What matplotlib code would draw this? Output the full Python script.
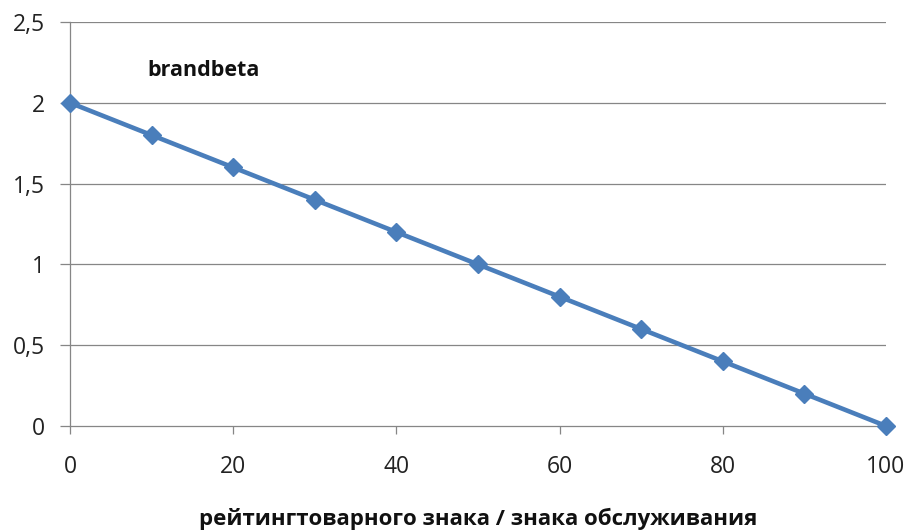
import matplotlib
matplotlib.use("Agg")
import matplotlib.pyplot as plt

# data
rating = [0, 10, 20, 30, 40, 50, 60, 70, 80, 90, 100]
brandbeta = [2.0, 1.8, 1.6, 1.4, 1.2, 1.0, 0.8, 0.6, 0.4, 0.2, 0.0]
yticks = [0, 0.5, 1, 1.5, 2, 2.5]
ytick_labels = ["0", "0,5", "1", "1,5", "2", "2,5"]
xticks = [0, 20, 40, 60, 80, 100]
series_name = "brandbeta"
xlabel = "рейтингтоварного знака / знака обслуживания"

plt.rcParams["font.family"] = ["Open Sans", "DejaVu Sans"]

fig = plt.figure(figsize=(9.06, 5.32), dpi=100)
ax = fig.add_axes([70 / 906, 1 - 426 / 532, 816 / 906, 404 / 532])

grid_c = "#868686"
for y in yticks[1:]:
    ax.axhline(y, color=grid_c, lw=0.9, zorder=1)

ax.plot(rating, brandbeta, color="#4A7EBB", lw=3.3, marker="D", ms=9.5,
        zorder=3, clip_on=False)

ax.set_xlim(0, 100)
ax.set_ylim(0, 2.5)
ax.set_xticks(xticks)
ax.set_yticks(yticks)
ax.set_yticklabels(ytick_labels)
for s in ["top", "right"]:
    ax.spines[s].set_visible(False)
for s in ["left", "bottom"]:
    ax.spines[s].set_color(grid_c)
    ax.spines[s].set_linewidth(0.9)
ax.tick_params(axis="y", length=7, width=0.9, color=grid_c, pad=11,
               labelsize=16.5, labelcolor="#222222")
ax.tick_params(axis="x", length=6, width=0.9, color=grid_c, pad=15,
               labelsize=16.5, labelcolor="#222222")

ax.text(9.5, 2.2, series_name, fontsize=15.5, fontweight="bold",
        va="center", ha="left", color="#111111")

fig.text(478 / 906, 7 / 532, xlabel, fontsize=16, fontweight="bold",
         ha="center", va="baseline", color="#111111")

fig.savefig("out.png", dpi=100)
